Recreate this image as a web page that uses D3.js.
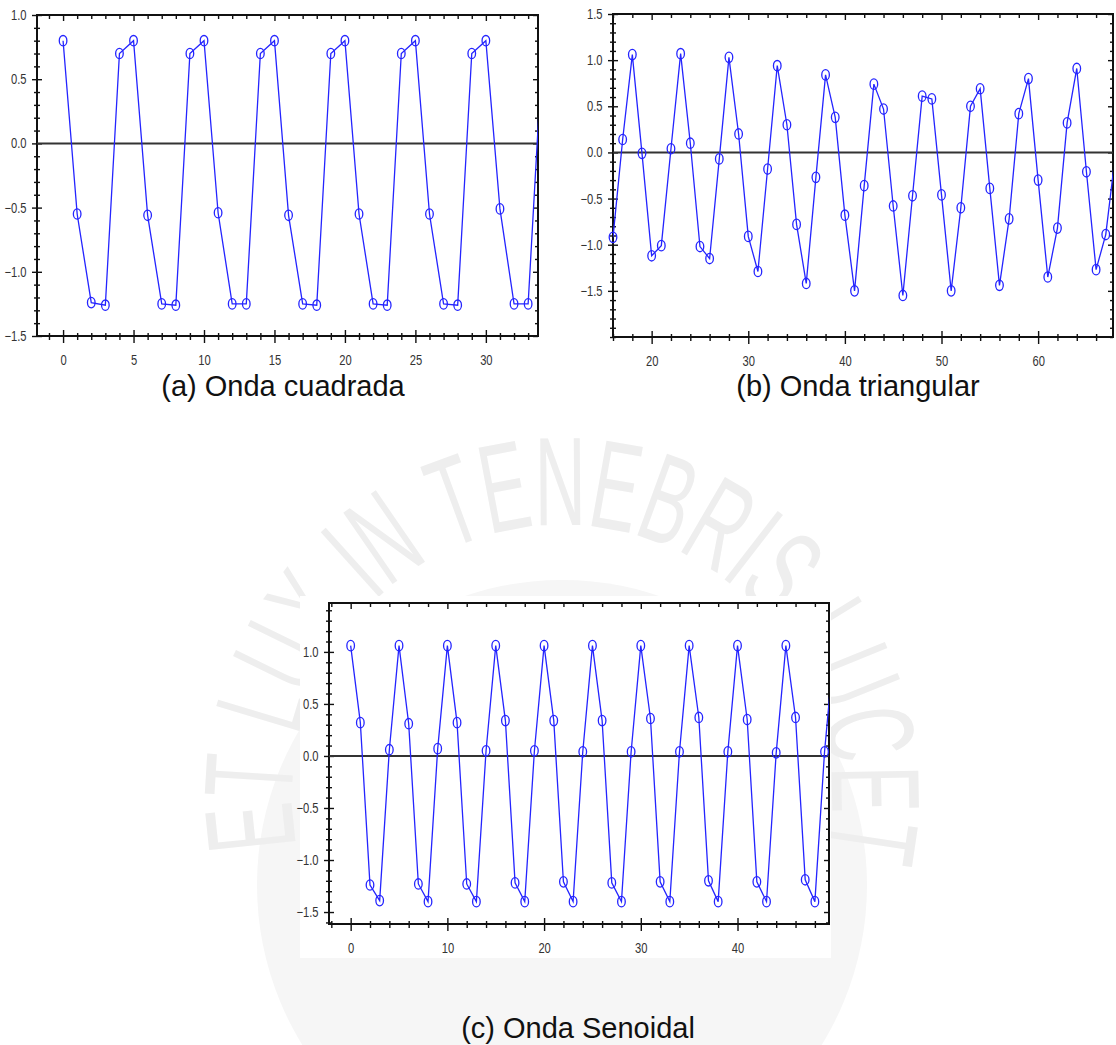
<!DOCTYPE html>
<html>
<head>
<meta charset="utf-8">
<script src="https://cdn.jsdelivr.net/npm/d3@7"></script>
<style>
  html, body { margin: 0; padding: 0; background: #ffffff; }
  svg { display: block; }
  .tick text { font-family: "Liberation Sans Narrow", "Arial Narrow", "Liberation Sans", Arial, sans-serif; font-size: 14px; fill: #333; }
  .caption { font-family: "Liberation Sans", Arial, sans-serif; font-size: 29px; fill: #111; }
</style>
</head>
<body>
<svg id="chart" width="1116" height="1045"></svg>
<script>
// ---------------- DATA ----------------
// (a) Onda cuadrada : samples starting at index 0
const squareStart = 0;
const squareValues = [0.80, -0.55, -1.24, -1.26, 0.70, 0.80, -0.56, -1.25, -1.26, 0.70,
                      0.80, -0.54, -1.25, -1.25, 0.70, 0.80, -0.56, -1.25, -1.26, 0.70,
                      0.80, -0.55, -1.25, -1.26, 0.70, 0.80, -0.55, -1.25, -1.26, 0.70,
                      0.80, -0.51, -1.25, -1.25, 0.70];
const squareXTicks = [0, 5, 10, 15, 20, 25, 30];
const squareYTicks = [-1.5, -1.0, -0.5, 0.0, 0.5, 1.0];

// (b) Onda triangular : samples starting at index 16
const triStart = 16;
const triValues = [-0.92, 0.14, 1.06, -0.01, -1.12, -1.01, 0.04, 1.07, 0.10, -1.02,
                   -1.15, -0.07, 1.03, 0.20, -0.91, -1.29, -0.18, 0.94, 0.30, -0.78,
                   -1.42, -0.27, 0.84, 0.38, -0.68, -1.50, -0.36, 0.74, 0.47, -0.58,
                   -1.55, -0.47, 0.61, 0.58, -0.46, -1.50, -0.60, 0.50, 0.69, -0.39,
                   -1.44, -0.72, 0.42, 0.80, -0.30, -1.35, -0.82, 0.32, 0.91, -0.21,
                   -1.27, -0.89, -0.02];
const triXTicks = [20, 30, 40, 50, 60];
const triYTicks = [-1.5, -1.0, -0.5, 0.0, 0.5, 1.0, 1.5];

// (c) Onda Senoidal : samples starting at index 0
const sineStart = 0;
const sineValues = [1.06, 0.32, -1.24, -1.39, 0.06, 1.06, 0.31, -1.23, -1.40, 0.07,
                    1.06, 0.32, -1.23, -1.40, 0.05, 1.06, 0.34, -1.22, -1.40, 0.05,
                    1.06, 0.34, -1.21, -1.40, 0.04, 1.06, 0.34, -1.22, -1.40, 0.04,
                    1.06, 0.36, -1.21, -1.40, 0.04, 1.06, 0.37, -1.20, -1.40, 0.04,
                    1.06, 0.35, -1.21, -1.40, 0.03, 1.06, 0.37, -1.19, -1.40, 0.04,
                    1.06];
const sineXTicks = [0, 10, 20, 30, 40];
const sineYTicks = [-1.5, -1.0, -0.5, 0.0, 0.5, 1.0];

const captions = ["(a) Onda cuadrada", "(b) Onda triangular", "(c) Onda Senoidal"];
const watermarkText = "ET LUX IN TENEBRIS LUCET";

// ---------------- LAYOUT ----------------
const svg = d3.select("#chart");
const defs = svg.append("defs");
const BLUE = "#2424ff";

// ----- faint watermark (seal) -----
const wm = svg.append("g");
const wcx = 562, wcy = 795;
wm.append("circle").attr("cx", wcx).attr("cy", wcy + 90).attr("r", 305).attr("fill", "#f6f6f6");
{
  const rT = 270, fs = 126, sx = 0.56;
  const a0 = -101 * Math.PI / 180, a1 = 103 * Math.PI / 180;
  const chars = watermarkText.split("");
  const probe = wm.append("text").attr("font-family", "'Liberation Sans', Arial, sans-serif").attr("font-size", fs);
  const widths = chars.map(c => {
    if (c === " ") return fs * 0.30;
    probe.text(c);
    return probe.node().getComputedTextLength();
  });
  probe.remove();
  const total = d3.sum(widths) * sx;
  const L = rT * (a1 - a0);
  const k = L / total;
  let cum = 0;
  chars.forEach((c, i) => {
    const adv = widths[i] * sx * k;
    const a = a0 + (cum + adv / 2) / rT;
    cum += adv;
    if (c === " ") return;
    const px = wcx + rT * Math.sin(a), py = wcy - rT * Math.cos(a);
    wm.append("text")
      .attr("font-family", "'Liberation Sans', Arial, sans-serif")
      .attr("font-size", fs).attr("fill", "#eeeeee").attr("text-anchor", "middle")
      .attr("transform", `translate(${px},${py}) rotate(${a * 180 / Math.PI}) scale(${sx},1)`)
      .text(c);
  });
}

// white background behind panel (c)
svg.append("rect").attr("x", 300).attr("y", 596).attr("width", 531).attr("height", 362).attr("fill", "#fff");

const panels = [
  { start: squareStart, values: squareValues, xTicks: squareXTicks, yTicks: squareYTicks,
    xDom: [-1.85, 33.7], yDom: [-1.5, 1.0], box: { l: 37, t: 15, r: 538, b: 336 },
    xMinorStep: 1, cap: { x: 283, y: 396 } },
  { start: triStart, values: triValues, xTicks: triXTicks, yTicks: triYTicks,
    xDom: [16, 67.75], yDom: [-2.0, 1.5], box: { l: 613, t: 14, r: 1113, b: 337 },
    xMinorStep: 2, cap: { x: 858, y: 396 } },
  { start: sineStart, values: sineValues, xTicks: sineXTicks, yTicks: sineYTicks,
    xDom: [-2.24, 49.46], yDom: [-1.615, 1.47], box: { l: 329, t: 603, r: 829, b: 924 },
    xMinorStep: 2, cap: { x: 578, y: 1038 } }
];

panels.forEach((p, idx) => {
  const g = svg.append("g");
  const x = d3.scaleLinear().domain(p.xDom).range([p.box.l, p.box.r]);
  const y = d3.scaleLinear().domain(p.yDom).range([p.box.b, p.box.t]);
  const data = p.values.map((v, i) => ({ x: p.start + i, y: v }));

  const clipId = "clip" + idx;
  defs.append("clipPath").attr("id", clipId)
    .append("rect").attr("x", p.box.l).attr("y", p.box.t)
    .attr("width", p.box.r - p.box.l).attr("height", p.box.b - p.box.t);

  // minor ticks
  const xMinor = [];
  for (let v = Math.ceil(p.xDom[0] / p.xMinorStep) * p.xMinorStep; v <= p.xDom[1]; v += p.xMinorStep) {
    if (!p.xTicks.some(t => Math.abs(t - v) < 1e-9)) xMinor.push(v);
  }
  const yMinor = [];
  for (let k = Math.ceil(p.yDom[0] * 10); k <= Math.floor(p.yDom[1] * 10); k++) {
    const v = k / 10;
    if (!p.yTicks.some(t => Math.abs(t - v) < 1e-9)) yMinor.push(v);
  }
  const fmt = d3.format(".1f");

  function styleAxis(sel) {
    sel.select(".domain").remove();
    sel.selectAll(".tick line").attr("stroke", "#111").attr("stroke-width", 1.4);
    sel.selectAll(".tick text").attr("transform", "scale(0.8,1)");
  }

  // bottom axis: major + minor, crossing
  g.append("g").attr("transform", `translate(0,${p.box.b})`)
    .call(d3.axisBottom(x).tickValues(p.xTicks).tickSize(7).tickPadding(12).tickFormat(d3.format("d")))
    .call(styleAxis);
  g.append("g").attr("transform", `translate(0,${p.box.b})`)
    .call(d3.axisTop(x).tickValues(p.xTicks).tickSize(6).tickFormat(""))
    .call(styleAxis);
  g.append("g").attr("transform", `translate(0,${p.box.b})`)
    .call(d3.axisBottom(x).tickValues(xMinor).tickSize(4).tickFormat(""))
    .call(styleAxis);
  g.append("g").attr("transform", `translate(0,${p.box.b})`)
    .call(d3.axisTop(x).tickValues(xMinor).tickSize(3).tickFormat(""))
    .call(styleAxis);
  // top axis: inward ticks
  g.append("g").attr("transform", `translate(0,${p.box.t})`)
    .call(d3.axisBottom(x).tickValues(p.xTicks).tickSize(6).tickFormat(""))
    .call(styleAxis);
  g.append("g").attr("transform", `translate(0,${p.box.t})`)
    .call(d3.axisBottom(x).tickValues(xMinor).tickSize(4).tickFormat(""))
    .call(styleAxis);
  // left axis: crossing
  g.append("g").attr("transform", `translate(${p.box.l},0)`)
    .call(d3.axisLeft(y).tickValues(p.yTicks).tickSize(5).tickPadding(8).tickFormat(fmt))
    .call(styleAxis);
  g.append("g").attr("transform", `translate(${p.box.l},0)`)
    .call(d3.axisRight(y).tickValues(p.yTicks).tickSize(5).tickFormat(""))
    .call(styleAxis);
  g.append("g").attr("transform", `translate(${p.box.l},0)`)
    .call(d3.axisLeft(y).tickValues(yMinor).tickSize(3).tickFormat(""))
    .call(styleAxis);
  g.append("g").attr("transform", `translate(${p.box.l},0)`)
    .call(d3.axisRight(y).tickValues(yMinor).tickSize(3).tickFormat(""))
    .call(styleAxis);
  // right axis: inward ticks
  g.append("g").attr("transform", `translate(${p.box.r},0)`)
    .call(d3.axisLeft(y).tickValues(p.yTicks).tickSize(5).tickFormat(""))
    .call(styleAxis);
  g.append("g").attr("transform", `translate(${p.box.r},0)`)
    .call(d3.axisLeft(y).tickValues(yMinor).tickSize(3).tickFormat(""))
    .call(styleAxis);

  // frame
  g.append("rect").attr("x", p.box.l).attr("y", p.box.t)
    .attr("width", p.box.r - p.box.l).attr("height", p.box.b - p.box.t)
    .attr("fill", "none").attr("stroke", "#111").attr("stroke-width", 2);

  // zero line
  g.append("line").attr("x1", p.box.l).attr("x2", p.box.r)
    .attr("y1", y(0)).attr("y2", y(0)).attr("stroke", "#333").attr("stroke-width", 2);

  // series line
  g.append("path").datum(data).attr("clip-path", `url(#${clipId})`)
    .attr("fill", "none").attr("stroke", BLUE).attr("stroke-width", 1.3)
    .attr("d", d3.line().x(d => x(d.x)).y(d => y(d.y)));

  // markers
  g.selectAll("ellipse.m").data(data.filter(d => d.x >= p.xDom[0] && d.x <= p.xDom[1]))
    .join("ellipse").attr("class", "m")
    .attr("cx", d => x(d.x)).attr("cy", d => y(d.y))
    .attr("rx", 3.8).attr("ry", 5.2)
    .attr("fill", "none").attr("stroke", BLUE).attr("stroke-width", 1.3);

  // caption
  svg.append("text").attr("class", "caption")
    .attr("x", p.cap.x).attr("y", p.cap.y).attr("text-anchor", "middle")
    .text(captions[idx]);
});
</script>
</body>
</html>
